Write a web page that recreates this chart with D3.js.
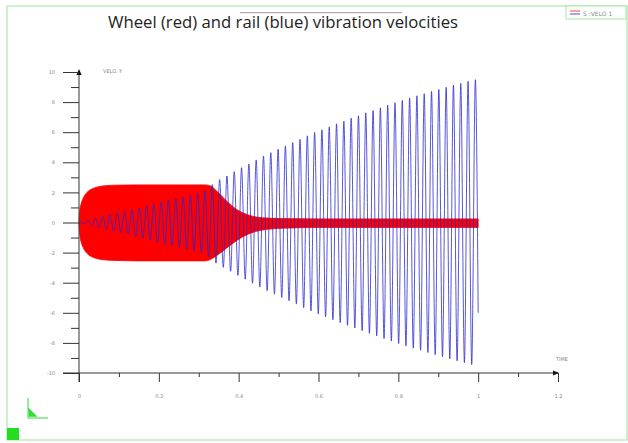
<!DOCTYPE html>
<html>
<head>
<meta charset="utf-8">
<script src="https://cdn.jsdelivr.net/npm/d3@7"></script>
<style>
  html, body { margin: 0; padding: 0; background: #fff; }
  svg { display: block; }
</style>
</head>
<body>
<svg id="chart" width="628" height="443"></svg>
<script>
// ---------------- data ----------------
const titleText = "Wheel (red) and rail (blue) vibration velocities";
const xLabel = "TIME";
const yLabel = "VELO. Y";
const legendText = "S :VELO 1";

const xMajorTicks = [0, 0.2, 0.4, 0.6, 0.8, 1, 1.2];
const xMinorTicks = [0.1, 0.3, 0.5, 0.7, 0.9, 1.1];
const yMajorTicks = [-10, -8, -6, -4, -2, 0, 2, 4, 6, 8, 10];
const yMinorTicks = [-9, -7, -5, -3, -1, 1, 3, 5, 7, 9];

// Rail (blue): successive positive peaks and negative troughs
const blueHalfPeriod = 0.009152;
const bluePeaks = [0.03, 0.17, 0.29, 0.41, 0.52, 0.63, 0.74, 0.86, 0.98, 1.11,
  1.25, 1.37, 1.48, 1.59, 1.71, 1.83, 1.96, 2.12, 2.52, 2.85,
  3.09, 3.38, 3.64, 3.89, 4.16, 4.42, 4.64, 4.87, 5.09, 5.31,
  5.53, 5.76, 5.98, 6.16, 6.36, 6.56, 6.73, 6.93, 7.09, 7.29,
  7.44, 7.62, 7.80, 7.96, 8.11, 8.27, 8.42, 8.56, 8.71, 8.84,
  8.98, 9.13, 9.24, 9.38, 9.49];
const blueTroughs = [-0.10, -0.23, -0.35, -0.47, -0.58, -0.68, -0.80, -0.92, -1.04, -1.18,
  -1.31, -1.42, -1.54, -1.65, -1.77, -1.90, -2.02, -2.30, -2.70, -2.98,
  -3.24, -3.51, -3.77, -4.03, -4.29, -4.53, -4.76, -4.98, -5.20, -5.42,
  -5.65, -5.87, -6.07, -6.26, -6.46, -6.65, -6.83, -7.01, -7.19, -7.37,
  -7.53, -7.71, -7.88, -8.04, -8.19, -8.35, -8.49, -8.64, -8.78, -8.91,
  -9.06, -9.19, -9.31, -9.44];
const blueEnd = { t: 1.0, v: -6.0 };

// Wheel (red): envelope of the dense high-frequency oscillation
const redT     = [0, 0.002, 0.006, 0.012, 0.02, 0.03, 0.045, 0.06, 0.09, 0.15, 0.25, 0.315, 0.328, 0.345, 0.37, 0.395, 0.428, 0.46, 0.51, 0.6, 0.8, 1.0];
const redUpper = [0, 0.8, 1.3, 1.7, 2.0, 2.2, 2.35, 2.43, 2.48, 2.5, 2.5, 2.5, 2.45, 2.09, 1.42, 0.87, 0.47, 0.31, 0.26, 0.24, 0.24, 0.24];
const redLower = [0, -0.8, -1.35, -1.75, -2.05, -2.25, -2.4, -2.47, -2.52, -2.55, -2.55, -2.55, -2.47, -2.2, -1.7, -1.2, -0.73, -0.5, -0.38, -0.33, -0.33, -0.33];

// ---------------- drawing ----------------
const svg = d3.select("#chart");
const x = d3.scaleLinear().domain([0, 1.2]).range([79, 558]);
const y = d3.scaleLinear().domain([-10, 10]).range([373, 72]);

// frame
svg.append("rect").attr("x", 7).attr("y", 6).attr("width", 620).attr("height", 434)
  .attr("fill", "none").attr("stroke", "#a8eaa8").attr("stroke-width", 1.2);

// legend box (top right)
const lg = svg.append("g");
lg.append("rect").attr("x", 566).attr("y", 6).attr("width", 60).attr("height", 13)
  .attr("fill", "#fff").attr("stroke", "#a8eaa8").attr("stroke-width", 1);
lg.append("line").attr("x1", 570).attr("x2", 580).attr("y1", 11).attr("y2", 11).attr("stroke", "#ff4040").attr("stroke-width", 1);
lg.append("line").attr("x1", 570).attr("x2", 580).attr("y1", 14).attr("y2", 14).attr("stroke", "#5050e0").attr("stroke-width", 1);
lg.append("text").attr("x", 583).attr("y", 15.5).attr("font-family", "DejaVu Sans, sans-serif")
  .attr("font-size", 6).attr("fill", "#888").text(legendText);

// title
svg.append("line").attr("x1", 240).attr("x2", 402).attr("y1", 12.7).attr("y2", 12.7)
  .attr("stroke", "#9a9a9a").attr("stroke-width", 1);
svg.append("text").attr("x", 108).attr("y", 28)
  .attr("font-family", "'Open Sans', sans-serif").attr("font-size", 15.5)
  .attr("fill", "#222").attr("textLength", 350).attr("lengthAdjust", "spacingAndGlyphs")
  .text(titleText);

// red band (wheel)
const redData = redT.map((t, i) => ({ t, hi: redUpper[i], lo: redLower[i] }));
svg.append("path").datum(redData)
  .attr("fill", "#ff0000").attr("stroke", "#ff0000").attr("stroke-width", 0.8)
  .attr("d", d3.area().x(d => x(d.t)).y0(d => y(d.lo)).y1(d => y(d.hi)).curve(d3.curveMonotoneX));

// blue line (rail)
const blueData = [{ t: 0, v: 0 }];
const nExt = bluePeaks.length + blueTroughs.length;
for (let j = 0; j < nExt; j++) {
  const v = (j % 2 === 0) ? bluePeaks[j / 2] : blueTroughs[(j - 1) / 2];
  blueData.push({ t: (j + 0.5) * blueHalfPeriod, v });
}
blueData.push(blueEnd);
svg.append("path").datum(blueData)
  .attr("fill", "none").attr("stroke", "#2828d0").attr("stroke-opacity", 0.78).attr("stroke-width", 1)
  .attr("d", d3.line().x(d => x(d.t)).y(d => y(d.v)).curve(d3.curveMonotoneX));

// axes
const axisColor = "#333";
const labelFont = "DejaVu Sans, sans-serif";

// x axis line and arrow
svg.append("line").attr("x1", 63).attr("x2", x(1.2)).attr("y1", y(-10)).attr("y2", y(-10))
  .attr("stroke", axisColor).attr("stroke-width", 1);
svg.append("path").attr("d", `M${x(1.2)+1},${y(-10)} l-6,-2.6 l0,5.2 z`).attr("fill", "#111");
// y axis line and arrow
svg.append("line").attr("x1", x(0)).attr("x2", x(0)).attr("y1", y(10)).attr("y2", y(-10) + 9)
  .attr("stroke", axisColor).attr("stroke-width", 1);
svg.append("path").attr("d", `M${x(0)},${y(10)-3} l-2.6,6 l5.2,0 z`).attr("fill", "#111");

function styleAxis(g) {
  g.select(".domain").remove();
  g.selectAll(".tick line").attr("stroke", axisColor).attr("stroke-width", 1);
  g.selectAll(".tick text").attr("fill", "#888").attr("font-size", 5).attr("font-family", labelFont);
}

svg.append("g").attr("transform", `translate(0,${y(-10)})`)
  .call(d3.axisBottom(x).tickValues(xMajorTicks).tickSize(9).tickPadding(12)
    .tickFormat(d => String(+d.toFixed(1))))
  .call(styleAxis);
svg.append("g").attr("transform", `translate(0,${y(-10)})`)
  .call(d3.axisBottom(x).tickValues(xMinorTicks).tickSize(4).tickFormat(""))
  .call(styleAxis);

svg.append("g").attr("transform", `translate(${x(0)},0)`)
  .call(d3.axisLeft(y).tickValues(yMajorTicks).tickSize(16).tickPadding(8)
    .tickFormat(d => String(d)))
  .call(styleAxis);
svg.append("g").attr("transform", `translate(${x(0)},0)`)
  .call(d3.axisLeft(y).tickValues(yMinorTicks).tickSize(8).tickFormat(""))
  .call(styleAxis);

// axis titles
svg.append("text").attr("x", 103).attr("y", 73).attr("font-family", labelFont)
  .attr("font-size", 5).attr("fill", "#888").text(yLabel);
svg.append("text").attr("x", 556).attr("y", 361).attr("font-family", labelFont)
  .attr("font-size", 5).attr("fill", "#888").text(xLabel);

// bottom-left decorations
const ic = svg.append("g").attr("stroke", "#33dd33").attr("fill", "#33dd33");
ic.append("line").attr("x1", 28).attr("x2", 28).attr("y1", 398).attr("y2", 418).attr("stroke-width", 1);
ic.append("line").attr("x1", 28).attr("x2", 48).attr("y1", 418).attr("y2", 418).attr("stroke-width", 1);
ic.append("path").attr("d", "M28.5,408 L29,416.5 L37,416.5 Z").attr("stroke-width", 0.5);
svg.append("rect").attr("x", 7).attr("y", 428).attr("width", 12).attr("height", 12).attr("fill", "#22dd22");
</script>
</body>
</html>
